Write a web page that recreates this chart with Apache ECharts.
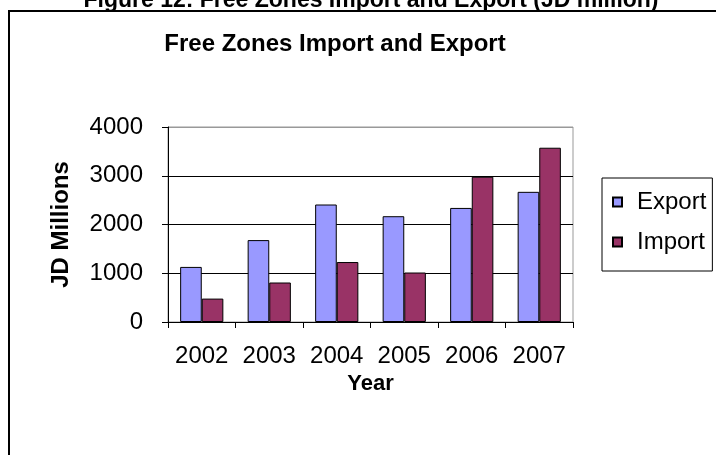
<!DOCTYPE html>
<html>
<head>
<meta charset="utf-8">
<script src="https://cdn.jsdelivr.net/npm/echarts@6/dist/echarts.min.js"></script>
<style>html,body{margin:0;padding:0;background:#fff;}#c{width:716px;height:455px;}</style>
</head>
<body>
<div id="c"></div>
<script>
const years = ['2002', '2003', '2004', '2005', '2006', '2007'];
const exportValues = [1130, 1680, 2410, 2170, 2340, 2670];
const importValues = [480, 810, 1230, 1015, 2980, 3575];
const yTicks = [0, 1000, 2000, 3000, 4000];

const chart = echarts.init(document.getElementById('c'), null, {renderer: 'canvas'});
const FONT = 'Liberation Sans, Arial, sans-serif';
chart.setOption({
  animation: false,
  backgroundColor: '#fff',
  title: [
    {text: 'Figure 12: Free Zones Import and Export (JD million)', left: 366, textAlign: 'center', top: -16,
     textStyle: {fontFamily: FONT, fontWeight: 'bold', fontSize: 23, color: '#000'}},
    {text: 'Free Zones Import and Export', left: 330, textAlign: 'center', top: 27,
     textStyle: {fontFamily: FONT, fontWeight: 'bold', fontSize: 24, color: '#000'}}
  ],
  graphic: [
    {type: 'rect', shape: {x: 9, y: 11, width: 720, height: 460}, style: {fill: null, stroke: '#000', lineWidth: 2}, z: -1}
  ],
  legend: {
    orient: 'vertical', left: 602, top: 178,
    borderColor: '#000', borderWidth: 1,
    padding: [12, 6, 17, 10],
    itemWidth: 9, itemHeight: 9, itemGap: 16,
    icon: 'rect',
    textStyle: {fontFamily: FONT, fontSize: 24, color: '#000', padding: [0, 0, 0, 10]},
    data: ['Export', 'Import']
  },
  grid: {left: 168, right: 143, top: 127, bottom: 133, show: true, borderColor: '#999', borderWidth: 1},
  xAxis: {
    type: 'category', data: years,
    name: 'Year', nameLocation: 'middle', nameGap: 51,
    nameTextStyle: {fontFamily: FONT, fontWeight: 'bold', fontSize: 22, color: '#000'},
    axisLine: {lineStyle: {color: '#000', width: 1}},
    axisTick: {show: true, length: 6, alignWithLabel: false, lineStyle: {color: '#000'}},
    axisLabel: {fontFamily: FONT, fontSize: 24, color: '#000', margin: 22, interval: 0}
  },
  yAxis: {
    type: 'value', min: yTicks[0], max: yTicks[yTicks.length - 1], interval: 1000,
    name: 'JD Millions', nameLocation: 'middle', nameGap: 95, nameRotate: 90,
    nameTextStyle: {fontFamily: FONT, fontWeight: 'bold', fontSize: 24, color: '#000'},
    axisLine: {show: true, lineStyle: {color: '#000', width: 1}},
    axisTick: {show: true, length: 6, inside: false, lineStyle: {color: '#000'}},
    axisLabel: {fontFamily: FONT, fontSize: 24, color: '#000', margin: 25, formatter: function (v) { return String(v); }},
    splitLine: {show: true, lineStyle: {color: ['#000', '#000', '#000', '#000', '#999'], width: 1}}
  },
  series: [
    {name: 'Export', type: 'bar', data: exportValues, barGap: '0%', barCategoryGap: '36%',
     itemStyle: {color: '#9999FF', borderColor: '#000', borderWidth: 1}},
    {name: 'Import', type: 'bar', data: importValues,
     itemStyle: {color: '#993366', borderColor: '#000', borderWidth: 1}}
  ]
});
</script>
</body>
</html>
